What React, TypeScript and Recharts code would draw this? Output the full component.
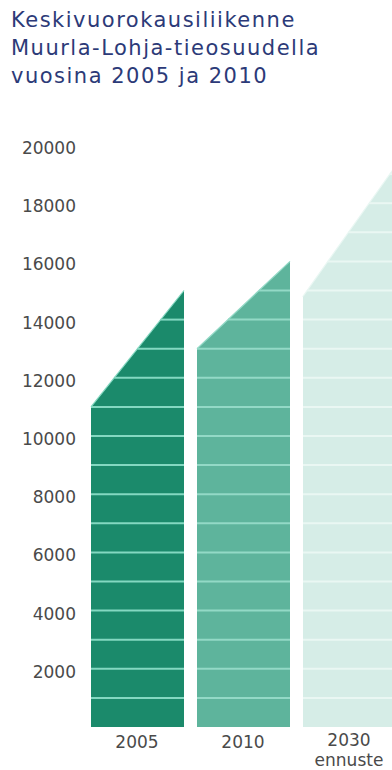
import { BarChart, Bar, XAxis, YAxis } from 'recharts';

// traffic per day: left edge (low) and right edge (high) of each slanted bar
const years = ['2005', '2010', '2030'];
const subLabels = ['', '', 'ennuste'];
const lowValues = [11000, 13000, 14800];
const highValues = [15000, 16000, 19300];
const yTicks = [2000, 4000, 6000, 8000, 10000, 12000, 14000, 16000, 18000, 20000];

const titleLines = ['Keskivuorokausiliikenne', 'Muurla-Lohja-tieosuudella', 'vuosina 2005 ja 2010'];

const FILLS = ['#1b8a6b', '#5eb49c', '#d6ede7'];
const STRIPES = ['#84d8c1', '#93d9c6', '#eaf7f3'];
const STRIPE_STEP = 1000;

const data = years.map((year, i) => ({
  year,
  sub: subLabels[i],
  low: lowValues[i],
  high: highValues[i],
}));

function SlantBar(props: any) {
  const { x, y, width, height, payload, index } = props;
  const base = y + height;
  const perUnit = height / payload.high;
  const yLow = base - payload.low * perUnit;
  const stripes = [];
  for (let v = STRIPE_STEP; v < payload.high; v += STRIPE_STEP) {
    const sy = base - v * perUnit;
    const x0 = v <= payload.low ? x : x + (width * (v - payload.low)) / (payload.high - payload.low);
    stripes.push(
      <line key={v} x1={x0} x2={x + width} y1={sy} y2={sy} stroke={STRIPES[index]} strokeWidth={2} />
    );
  }
  return (
    <g>
      <path
        d={`M${x},${base} L${x},${yLow} L${x + width},${y} L${x + width},${base} Z`}
        fill={FILLS[index]}
      />
      {stripes}
      <line x1={x} y1={yLow} x2={x + width} y2={y} stroke={STRIPES[index]} strokeWidth={1.2} />
    </g>
  );
}

function YTick({ x, y, payload }: any) {
  return (
    <text x={x} y={y + 3} dy="0.35em" textAnchor="end" fill="#4a4a4a" fontSize={17} fontFamily="DejaVu Sans">
      {payload.value}
    </text>
  );
}

function XTick({ x, y, payload, index }: any) {
  const sub = subLabels[index];
  return (
    <text x={x} y={sub ? y + 11 : y + 13} textAnchor="middle" fill="#4a4a4a" fontSize={17} fontFamily="DejaVu Sans">
      <tspan x={x}>{payload.value}</tspan>
      {sub ? <tspan x={x} dy={20}>{sub}</tspan> : null}
    </text>
  );
}

export default function App() {
  return (
    <div style={{ position: 'fixed', top: 0, left: 0, width: 392, height: 770, overflow: 'hidden', background: '#fff' }}>
      <div style={{ position: 'absolute', top: 0, left: 0 }}>
        <BarChart
          width={410}
          height={770}
          data={data}
          margin={{ top: 145, right: 8, bottom: 0, left: 0 }}
        >
          <XAxis dataKey="year" axisLine={false} tickLine={false} height={43} tick={<XTick />} interval={0} />
          <YAxis
            domain={[0, 20000]}
            ticks={yTicks}
            interval={0}
            width={84}
            axisLine={false}
            tickLine={false}
            tick={<YTick />}
          />
          <Bar dataKey="high" barSize={93} shape={<SlantBar />} isAnimationActive={false} />
        </BarChart>
      </div>
      <div
        style={{
          position: 'absolute', top: 6, left: 11,
          fontFamily: 'DejaVu Sans', fontSize: 21, lineHeight: '28px', letterSpacing: 1.5,
          color: '#2c3a78', whiteSpace: 'nowrap',
        }}
      >
        {titleLines.map((l) => <div key={l}>{l}</div>)}
      </div>
    </div>
  );
}
